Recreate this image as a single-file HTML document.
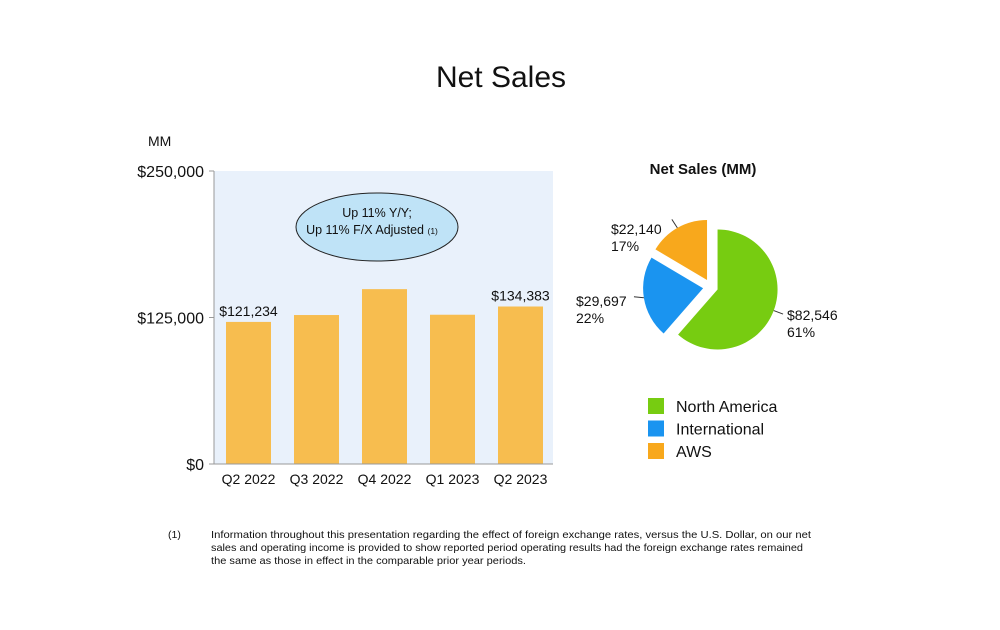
<!DOCTYPE html>
<html><head><meta charset="utf-8"><style>
html,body{margin:0;padding:0;background:#fff;}
svg{display:block;font-family:"Liberation Sans",Arial,sans-serif;}
</style></head><body>
<svg id="c" width="1000" height="630" viewBox="0 0 1000 630">
<text x="501" y="87" font-size="30" text-anchor="middle" fill="#111">Net Sales</text>
<text x="148" y="146" font-size="14" fill="#111">MM</text>
<rect x="214" y="171" width="339" height="293" fill="#e9f1fb"/>
<g id="bars"></g>
<line x1="214" y1="171" x2="214" y2="464" stroke="#999"/>
<line x1="214" y1="464" x2="553" y2="464" stroke="#999"/>
<g id="yt"></g>
<g>
<ellipse cx="377" cy="227" rx="81" ry="34" fill="#bfe3f7" stroke="#222" stroke-width="1"/>
<text x="377" y="217" font-size="12.5" text-anchor="middle" fill="#111">Up 11% Y/Y;</text>
<text x="372" y="234" font-size="12.5" text-anchor="middle" fill="#111">Up 11% F/X Adjusted <tspan font-size="8.5">(1)</tspan></text>
</g>
<text x="703" y="174" font-size="15" font-weight="bold" text-anchor="middle" fill="#111">Net Sales (MM)</text>
<g id="pie"></g>
<g id="legend"></g>
<g font-size="10.5" fill="#111" font-family="'Liberation Sans Narrow','Liberation Sans',sans-serif">
<text x="168" y="538">(1)</text>
<text x="211" y="538" textLength="600" lengthAdjust="spacingAndGlyphs">Information throughout this presentation regarding the effect of foreign exchange rates, versus the U.S. Dollar, on our net</text>
<text x="211" y="551" textLength="592" lengthAdjust="spacingAndGlyphs">sales and operating income is provided to show reported period operating results had the foreign exchange rates remained</text>
<text x="211" y="564" textLength="315" lengthAdjust="spacingAndGlyphs">the same as those in effect in the comparable prior year periods.</text>
</g>
</svg>
<script>
const categories=["Q2 2022","Q3 2022","Q4 2022","Q1 2023","Q2 2023"];
const netSales=[121234,127101,149204,127358,134383];
const barLabels=["$121,234","","","","$134,383"];
const yTicks=[0,125000,250000];
const yTickLabels=["$0","$125,000","$250,000"];
const segNames=["North America","International","AWS"];
const segValues=[82546,29697,22140];
const segValueLabels=["$82,546","$29,697","$22,140"];
const segPctLabels=["61%","22%","17%"];
const segColors=["#77cc11","#1a94f0","#f8a81c"];
const NS="http://www.w3.org/2000/svg";
function mk(t,a,p){const e=document.createElementNS(NS,t);for(const k in a)e.setAttribute(k,a[k]);p.appendChild(e);return e;}
const y=v=>464-v/250000*293;
const x=i=>214+12+i*68;
const bars=document.getElementById('bars');
netSales.forEach((v,i)=>{
 const r=mk('rect',{x:x(i),y:y(v),width:45,height:464-y(v),fill:'#f7bd4f'},bars);
 
 
 const t=mk('text',{x:x(i)+22.5,y:484,'font-size':14,'text-anchor':'middle',fill:'#111'},bars);t.textContent=categories[i];
 
 
 if(barLabels[i]){const l=mk('text',{x:x(i)+22.5,y:y(v)-6,'font-size':14,'text-anchor':'middle',fill:'#111'},bars);l.textContent=barLabels[i];
 
 }
});
const yt=document.getElementById('yt');
yTicks.forEach((v,i)=>{
 mk('line',{x1:209,x2:214,y1:y(v),y2:y(v),stroke:'#999'},yt);
 const t=mk('text',{x:204,y:y(v)+6,'font-size':16,'text-anchor':'end',fill:'#111'},yt);t.textContent=yTickLabels[i];
 
 
});
const pie=document.getElementById('pie');
const cx=711,cy=287,R=60,off=[7,8,8];
const tot=segValues.reduce((a,b)=>a+b,0);
let a0=0;
const labelPos=[[787,320,'start'],[576,306,'start'],[611,234,'start']];
const leader=[[0.93,0.35],[-0.99,-0.1],[-0.55,-0.85]];
segValues.forEach((v,i)=>{
 const a1=a0+v/tot*2*Math.PI,am=(a0+a1)/2;
 const ox=cx+Math.sin(am)*off[i],oy=cy-Math.cos(am)*off[i];
 const p=(a)=>[ox+Math.sin(a)*R,oy-Math.cos(a)*R];
 const s=p(a0),e=p(a1),lg=(a1-a0)>Math.PI?1:0;
 const path=mk('path',{d:`M${ox},${oy}L${s[0]},${s[1]}A${R},${R} 0 ${lg} 1 ${e[0]},${e[1]}Z`,fill:segColors[i]},pie);
 
 
 const lp=labelPos[i];
 const edge=p(am);
 mk('line',{x1:edge[0],y1:edge[1],x2:edge[0]+leader[i][0]*10,y2:edge[1]+leader[i][1]*10,stroke:'#333','stroke-width':1},pie);
 const t=mk('text',{x:lp[0],y:lp[1],'font-size':14,fill:'#111'},pie);t.textContent=segValueLabels[i];
 
 
 const t2=mk('text',{x:lp[0],y:lp[1]+17,'font-size':14,fill:'#111'},pie);t2.textContent=segPctLabels[i];
 
 
 a0=a1;
});
const lg=document.getElementById('legend');
segNames.forEach((n,i)=>{
 const yy=398+i*22.5;
 const r=mk('rect',{x:648,y:yy,width:16,height:16,fill:segColors[i]},lg);
 
 
 const t=mk('text',{x:676,y:yy+14,'font-size':16,fill:'#111'},lg);t.textContent=n;
 
 
});
</script>
</body></html>
